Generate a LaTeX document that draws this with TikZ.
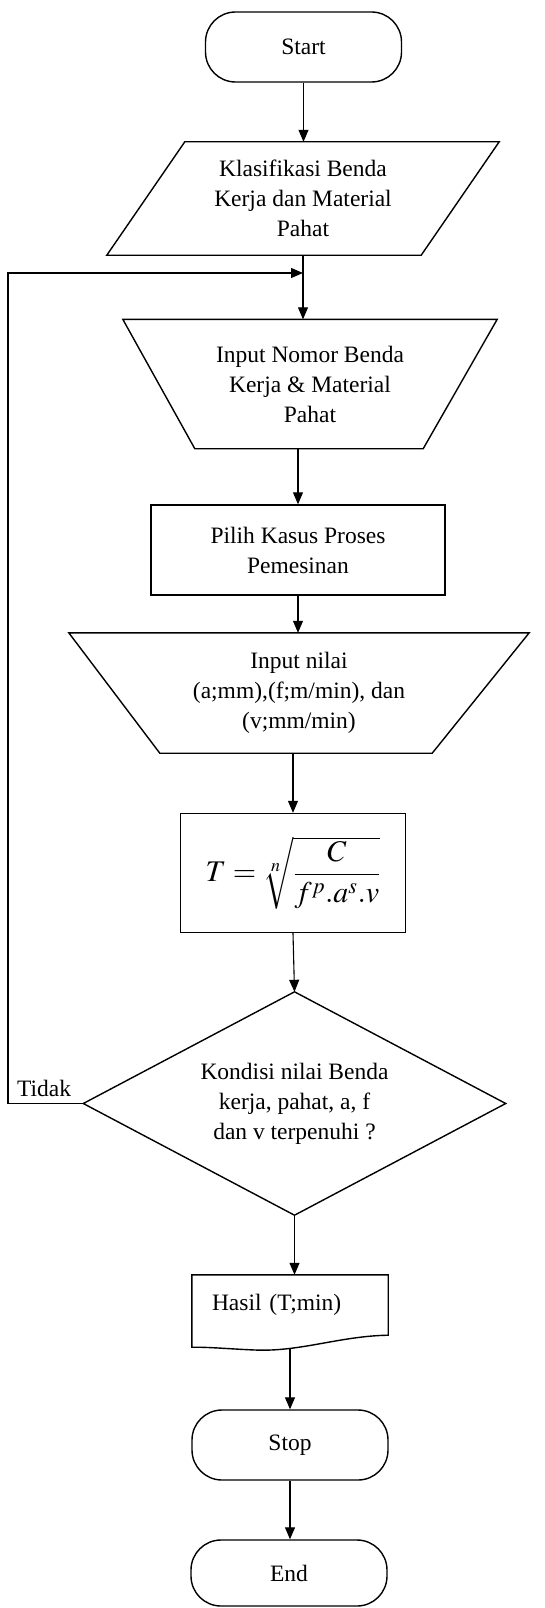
\documentclass[tikz,border=0pt]{standalone}
\usepackage{mathptmx}
\usepackage[no-math]{fontspec}
\setmainfont{Liberation Serif}
\usetikzlibrary{arrows.meta,calc}
\begin{document}
\begin{tikzpicture}[x=1pt,y=-1pt,
  txt/.style={inner sep=0pt, align=center, font=\fontsize{23.5}{30}\selectfont},
  shapeline/.style={draw, line width=1.4pt, line join=miter},
  term/.style={txt, shapeline, rounded corners=30pt, minimum width=196pt, minimum height=70pt},
  proc/.style={txt, shapeline},
  conn/.style={line width=1.1pt, -{Triangle[width=10pt,length=12pt]}}]
\useasboundingbox[fill=white] (0,0) rectangle (544,1608);

% nodes
\node[term] (start) at (303.5,47) {Start};

\node[txt, minimum width=392pt, minimum height=113pt] (klas) at (303,198.5)
  {Klasifikasi Benda\\Kerja dan Material\\Pahat};
\draw[shapeline] ([xshift=78pt]klas.north west) -- (klas.north east)
  -- ([xshift=-78pt]klas.south east) -- (klas.south west) -- cycle;

\node[txt, minimum width=374pt, minimum height=129pt] (inp1) at (310,384)
  {Input Nomor Benda\\Kerja \& Material\\Pahat};
\draw[shapeline] (inp1.north west) -- (inp1.north east)
  -- ([xshift=-74pt]inp1.south east) -- ([xshift=72pt]inp1.south west) -- cycle;

\node[proc, minimum width=294pt, minimum height=90pt] (pilih) at (298,550)
  {Pilih Kasus Proses\\Pemesinan};

\node[txt, minimum width=460pt, minimum height=120pt] (inp2) at (299,693)
  {Input nilai\\(a;mm),(f;m/min), dan\\(v;mm/min)};
\draw[shapeline] (inp2.north west) -- (inp2.north east)
  -- ([xshift=-97pt]inp2.south east) -- ([xshift=91pt]inp2.south west) -- cycle;

\node[proc, minimum width=225pt, minimum height=119pt] (form) at (293,873)
  {\fontsize{30}{36}\selectfont$T=\sqrt[n]{\displaystyle\frac{C}{f^{p}.a^{s}.v}}$};

\node[txt, minimum width=422pt, minimum height=223pt] (dec) at (294.5,1103.5)
  {Kondisi nilai Benda\\kerja, pahat, a, f\\dan v terpenuhi ?};
\draw[shapeline] (dec.north) -- (dec.east) -- (dec.south) -- (dec.west) -- cycle;

\node[txt, minimum width=196pt, minimum height=60pt, inner xsep=20pt, text width=156pt, align=left]
  (hasil) at (290,1305) {Hasil (T;min)};
\draw[shapeline] (hasil.south west) -- (hasil.north west) -- (hasil.north east) -- (hasil.south east)
  .. controls (340,1336) and (300,1352) .. (255,1350)
  .. controls (230,1349) and (210,1347) .. ([yshift=-12pt]hasil.south west) -- cycle;
\coordinate (hasilb) at ([yshift=-13pt]hasil.south);

\node[term] (stop) at (290,1445) {Stop};
\node[term, minimum height=66pt] (end) at (289,1573) {End};

\node[txt] (tidak) at (44,1088) {Tidak};

% connectors
\coordinate (join) at (303,273);
\coordinate (lc) at (8,0);
\draw[conn] (start.south) -- (start.south |- klas.north);
\draw[conn] (klas.south) -- (klas.south |- inp1.north);
\draw[conn] (pilih.north |- inp1.south) -- (pilih.north);
\draw[conn] (pilih.south) -- (pilih.south |- inp2.north);
\draw[conn] (form.north |- inp2.south) -- (form.north);
\draw[conn] (form.south) -- (dec.north);
\draw[conn] (dec.south) -- (dec.south |- hasil.north);
\draw[conn] (hasilb) -- (hasilb |- stop.north);
\draw[conn] (stop.south) -- (stop.south |- end.north);
\draw[conn] (dec.west) -- (dec.west -| lc) -- (join -| lc) -- (join);
\end{tikzpicture}
\end{document}
